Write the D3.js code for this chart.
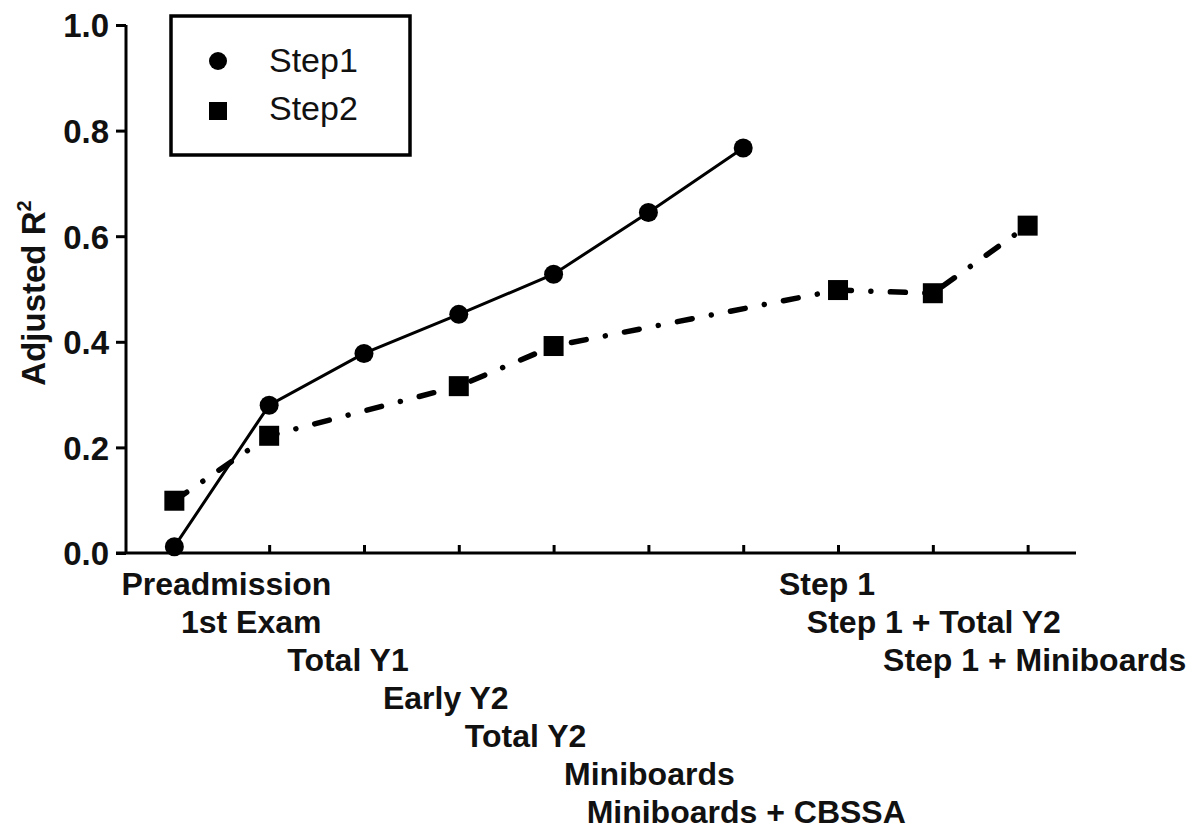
<!DOCTYPE html>
<html>
<head>
<meta charset="utf-8">
<script src="https://cdn.jsdelivr.net/npm/d3@7"></script>
<style>
  body { margin: 0; background: #fff; }
  text { font-family: Arial, "Liberation Sans", sans-serif; }
</style>
</head>
<body>
<svg id="chart" width="1194" height="830"></svg>
<script>
// categories along the x axis
var categories = ["Preadmission", "1st Exam", "Total Y1", "Early Y2", "Total Y2",
                  "Miniboards", "Miniboards + CBSSA", "Step 1", "Step 1 + Total Y2", "Step 1 + Miniboards"]

// Step1 model: categories 0..6
var step1Cats = ["Preadmission", "1st Exam", "Total Y1", "Early Y2", "Total Y2", "Miniboards", "Miniboards + CBSSA"]
var step1Vals = [0.012, 0.280, 0.378, 0.452, 0.528, 0.645, 0.767]

// Step2 model
var step2Cats = ["Preadmission", "1st Exam", "Early Y2", "Total Y2", "Step 1", "Step 1 + Total Y2", "Step 1 + Miniboards"]
var step2Vals = [0.099, 0.222, 0.316, 0.392, 0.498, 0.492, 0.620]

var yTicks = [0, 0.2, 0.4, 0.6, 0.8, 1.0]
var seriesNames = ["Step1", "Step2"]

// layout only: staggered label rows and horizontal nudges
var labelRow = [0, 1, 2, 3, 4, 5, 6, 0, 1, 2]
var labelDx = [52, -18, -16, -13, -28, 1, 3, -11, 1, 7]

var dimensions = {
    width: 1194,
    height: 830,
    margin: { top: 25, bottom: 277, left: 126, right: 118 }
}

var svg = d3.select("#chart")

var xScale = d3.scalePoint()
    .domain(categories)
    .range([dimensions.margin.left, dimensions.width - dimensions.margin.right])
    .padding(0.51)

var yScale = d3.scaleLinear()
    .domain([0, 1])
    .range([dimensions.height - dimensions.margin.bottom, dimensions.margin.top])

var x0 = dimensions.height - dimensions.margin.bottom

// y axis
var yAxis = svg.append("g")
    .attr("transform", "translate(" + dimensions.margin.left + ",0)")
    .call(d3.axisLeft(yScale).tickValues(yTicks).tickFormat(d3.format(".1f")).tickSize(10).tickPadding(7))
yAxis.select(".domain").attr("d", "M0," + yScale(1) + "V" + yScale(0))
yAxis.selectAll("line, path").attr("stroke", "#000").attr("stroke-width", 3)
yAxis.selectAll("text")
    .attr("font-size", 33).attr("font-weight", "bold").attr("fill", "#111")
    .attr("dy", "0.36em")

// x axis with inward ticks
var xAxis = svg.append("g")
    .attr("transform", "translate(0," + x0 + ")")
    .call(d3.axisBottom(xScale).tickSize(-8).tickFormat(""))
xAxis.select(".domain").attr("d", "M" + (dimensions.margin.left - 10) + ",0H" + (dimensions.width - dimensions.margin.right))
xAxis.selectAll("line, path").attr("stroke", "#000").attr("stroke-width", 3)

// category labels, staggered
svg.append("g")
    .selectAll("text")
    .data(categories)
    .enter()
    .append("text")
    .attr("x", function(d, i){ return xScale(d) + labelDx[i] })
    .attr("y", function(d, i){ return x0 + 42 + labelRow[i] * 38 })
    .attr("text-anchor", "middle")
    .attr("font-size", 32)
    .attr("font-weight", "bold")
    .attr("fill", "#111")
    .text(function(d){ return d })

// y axis title
var yTitle = svg.append("text")
    .attr("transform", "translate(45," + 293 + ") rotate(-90)")
    .attr("text-anchor", "middle")
    .attr("font-size", 33)
    .attr("font-weight", "bold")
    .attr("fill", "#111")
yTitle.append("tspan").text("Adjusted R")
yTitle.append("tspan").attr("font-size", 20).attr("dy", -14).text("2")

var line = d3.line()
    .x(function(d){ return xScale(d[0]) })
    .y(function(d){ return yScale(d[1]) })

var s1 = d3.zip(step1Cats, step1Vals)
var s2 = d3.zip(step2Cats, step2Vals)

svg.append("path")
    .datum(s2)
    .attr("d", line)
    .attr("fill", "none")
    .attr("stroke", "#000")
    .attr("stroke-width", 5.5)
    .attr("stroke-linecap", "round")
    .attr("stroke-dasharray", "15 19.5 0.01 19.5")

svg.append("path")
    .datum(s1)
    .attr("d", line)
    .attr("fill", "none")
    .attr("stroke", "#000")
    .attr("stroke-width", 3)

svg.append("g")
    .selectAll("rect")
    .data(s2)
    .enter()
    .append("rect")
    .attr("x", function(d){ return xScale(d[0]) - 10 })
    .attr("y", function(d){ return yScale(d[1]) - 10 })
    .attr("width", 20)
    .attr("height", 20)
    .attr("fill", "#000")

svg.append("g")
    .selectAll("circle")
    .data(s1)
    .enter()
    .append("circle")
    .attr("cx", function(d){ return xScale(d[0]) })
    .attr("cy", function(d){ return yScale(d[1]) })
    .attr("r", 9.5)
    .attr("fill", "#000")

// legend
var legend = svg.append("g")
legend.append("rect")
    .attr("x", 171).attr("y", 16)
    .attr("width", 239).attr("height", 139)
    .attr("fill", "none").attr("stroke", "#000").attr("stroke-width", 3.5)
legend.append("circle").attr("cx", 218).attr("cy", 61).attr("r", 9).attr("fill", "#000")
legend.append("rect").attr("x", 209).attr("y", 102).attr("width", 18).attr("height", 18).attr("fill", "#000")
legend.selectAll("text.lg")
    .data(seriesNames)
    .enter()
    .append("text")
    .attr("class", "lg")
    .attr("x", 269)
    .attr("y", function(d, i){ return 72 + i * 48 })
    .attr("font-size", 34)
    .attr("fill", "#111")
    .text(function(d){ return d })
</script>
</body>
</html>
